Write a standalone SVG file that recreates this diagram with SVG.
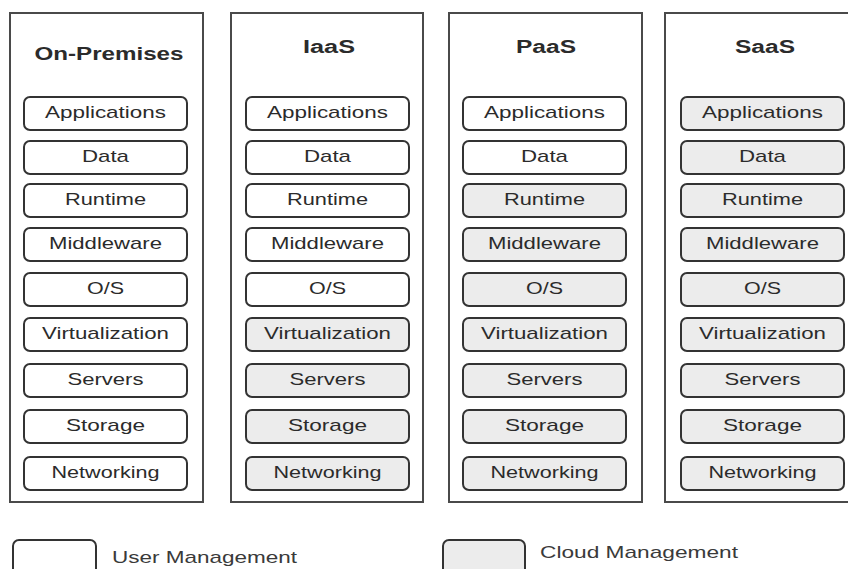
<svg xmlns="http://www.w3.org/2000/svg" width="848" height="569" viewBox="0 0 848 569">
  <style>
    .col { fill: #ffffff; stroke: #4a4a4a; stroke-width: 2; }
    .box { stroke: #333333; stroke-width: 2; }
    .user { fill: #ffffff; }
    .cloud { fill: #ececec; }
    .head { font-family: "Liberation Sans", Arial, sans-serif; font-weight: bold; font-size: 18px; fill: #2b2b2b; text-anchor: middle; }
    .lbl { font-family: "Liberation Sans", Arial, sans-serif; font-size: 17px; fill: #2b2b2b; text-anchor: middle; }
    .leg { font-family: "Liberation Sans", Arial, sans-serif; font-size: 17px; fill: #3a3a3a; }
  </style>
  <defs>
    <rect id="b" width="163" height="33" rx="6" ry="6"/>
  </defs>
  <rect width="848" height="569" fill="#ffffff"/>

  <!-- On-Premises: everything managed by the user -->
  <g id="on-premises">
    <rect class="col" x="10" y="13" width="193" height="489"/>
    <text class="head" x="109" y="60" textLength="149" lengthAdjust="spacingAndGlyphs">On-Premises</text>
    <g transform="translate(24,0)">
      <use href="#b" class="box user" y="97"/><text class="lbl" x="81.5" y="118" textLength="121" lengthAdjust="spacingAndGlyphs">Applications</text>
      <use href="#b" class="box user" y="141"/><text class="lbl" x="81.5" y="162" textLength="47" lengthAdjust="spacingAndGlyphs">Data</text>
      <use href="#b" class="box user" y="184"/><text class="lbl" x="81.5" y="205" textLength="81" lengthAdjust="spacingAndGlyphs">Runtime</text>
      <use href="#b" class="box user" y="228"/><text class="lbl" x="81.5" y="249" textLength="113" lengthAdjust="spacingAndGlyphs">Middleware</text>
      <use href="#b" class="box user" y="273"/><text class="lbl" x="81.5" y="294" textLength="37" lengthAdjust="spacingAndGlyphs">O/S</text>
      <use href="#b" class="box user" y="318"/><text class="lbl" x="81.5" y="339" textLength="127" lengthAdjust="spacingAndGlyphs">Virtualization</text>
      <use href="#b" class="box user" y="364"/><text class="lbl" x="81.5" y="385" textLength="76" lengthAdjust="spacingAndGlyphs">Servers</text>
      <use href="#b" class="box user" y="410"/><text class="lbl" x="81.5" y="431" textLength="79" lengthAdjust="spacingAndGlyphs">Storage</text>
      <use href="#b" class="box user" y="457"/><text class="lbl" x="81.5" y="478" textLength="108" lengthAdjust="spacingAndGlyphs">Networking</text>
    </g>
  </g>

  <!-- IaaS: provider runs virtualization and below -->
  <g id="iaas">
    <rect class="col" x="231" y="13" width="192" height="489"/>
    <text class="head" x="329" y="53" textLength="52" lengthAdjust="spacingAndGlyphs">IaaS</text>
    <g transform="translate(246,0)">
      <use href="#b" class="box user" y="97"/><text class="lbl" x="81.5" y="118" textLength="121" lengthAdjust="spacingAndGlyphs">Applications</text>
      <use href="#b" class="box user" y="141"/><text class="lbl" x="81.5" y="162" textLength="47" lengthAdjust="spacingAndGlyphs">Data</text>
      <use href="#b" class="box user" y="184"/><text class="lbl" x="81.5" y="205" textLength="81" lengthAdjust="spacingAndGlyphs">Runtime</text>
      <use href="#b" class="box user" y="228"/><text class="lbl" x="81.5" y="249" textLength="113" lengthAdjust="spacingAndGlyphs">Middleware</text>
      <use href="#b" class="box user" y="273"/><text class="lbl" x="81.5" y="294" textLength="37" lengthAdjust="spacingAndGlyphs">O/S</text>
      <use href="#b" class="box cloud" y="318"/><text class="lbl" x="81.5" y="339" textLength="127" lengthAdjust="spacingAndGlyphs">Virtualization</text>
      <use href="#b" class="box cloud" y="364"/><text class="lbl" x="81.5" y="385" textLength="76" lengthAdjust="spacingAndGlyphs">Servers</text>
      <use href="#b" class="box cloud" y="410"/><text class="lbl" x="81.5" y="431" textLength="79" lengthAdjust="spacingAndGlyphs">Storage</text>
      <use href="#b" class="box cloud" y="457"/><text class="lbl" x="81.5" y="478" textLength="108" lengthAdjust="spacingAndGlyphs">Networking</text>
    </g>
  </g>

  <!-- PaaS: user keeps applications and data -->
  <g id="paas">
    <rect class="col" x="449" y="13" width="193" height="489"/>
    <text class="head" x="546" y="53" textLength="60" lengthAdjust="spacingAndGlyphs">PaaS</text>
    <g transform="translate(463,0)">
      <use href="#b" class="box user" y="97"/><text class="lbl" x="81.5" y="118" textLength="121" lengthAdjust="spacingAndGlyphs">Applications</text>
      <use href="#b" class="box user" y="141"/><text class="lbl" x="81.5" y="162" textLength="47" lengthAdjust="spacingAndGlyphs">Data</text>
      <use href="#b" class="box cloud" y="184"/><text class="lbl" x="81.5" y="205" textLength="81" lengthAdjust="spacingAndGlyphs">Runtime</text>
      <use href="#b" class="box cloud" y="228"/><text class="lbl" x="81.5" y="249" textLength="113" lengthAdjust="spacingAndGlyphs">Middleware</text>
      <use href="#b" class="box cloud" y="273"/><text class="lbl" x="81.5" y="294" textLength="37" lengthAdjust="spacingAndGlyphs">O/S</text>
      <use href="#b" class="box cloud" y="318"/><text class="lbl" x="81.5" y="339" textLength="127" lengthAdjust="spacingAndGlyphs">Virtualization</text>
      <use href="#b" class="box cloud" y="364"/><text class="lbl" x="81.5" y="385" textLength="76" lengthAdjust="spacingAndGlyphs">Servers</text>
      <use href="#b" class="box cloud" y="410"/><text class="lbl" x="81.5" y="431" textLength="79" lengthAdjust="spacingAndGlyphs">Storage</text>
      <use href="#b" class="box cloud" y="457"/><text class="lbl" x="81.5" y="478" textLength="108" lengthAdjust="spacingAndGlyphs">Networking</text>
    </g>
  </g>

  <!-- SaaS: whole stack run by the provider -->
  <g id="saas">
    <rect class="col" x="665" y="13" width="200" height="489"/>
    <text class="head" x="765" y="53" textLength="60" lengthAdjust="spacingAndGlyphs">SaaS</text>
    <g transform="translate(681,0)">
      <use href="#b" class="box cloud" y="97"/><text class="lbl" x="81.5" y="118" textLength="121" lengthAdjust="spacingAndGlyphs">Applications</text>
      <use href="#b" class="box cloud" y="141"/><text class="lbl" x="81.5" y="162" textLength="47" lengthAdjust="spacingAndGlyphs">Data</text>
      <use href="#b" class="box cloud" y="184"/><text class="lbl" x="81.5" y="205" textLength="81" lengthAdjust="spacingAndGlyphs">Runtime</text>
      <use href="#b" class="box cloud" y="228"/><text class="lbl" x="81.5" y="249" textLength="113" lengthAdjust="spacingAndGlyphs">Middleware</text>
      <use href="#b" class="box cloud" y="273"/><text class="lbl" x="81.5" y="294" textLength="37" lengthAdjust="spacingAndGlyphs">O/S</text>
      <use href="#b" class="box cloud" y="318"/><text class="lbl" x="81.5" y="339" textLength="127" lengthAdjust="spacingAndGlyphs">Virtualization</text>
      <use href="#b" class="box cloud" y="364"/><text class="lbl" x="81.5" y="385" textLength="76" lengthAdjust="spacingAndGlyphs">Servers</text>
      <use href="#b" class="box cloud" y="410"/><text class="lbl" x="81.5" y="431" textLength="79" lengthAdjust="spacingAndGlyphs">Storage</text>
      <use href="#b" class="box cloud" y="457"/><text class="lbl" x="81.5" y="478" textLength="108" lengthAdjust="spacingAndGlyphs">Networking</text>
    </g>
  </g>

  <!-- legend -->
  <g id="legend">
    <rect class="box user" x="13" y="540" width="83" height="45" rx="6" ry="6"/>
    <text class="leg" x="112" y="563" textLength="185" lengthAdjust="spacingAndGlyphs">User Management</text>
    <rect class="box cloud" x="443" y="540" width="82" height="45" rx="6" ry="6"/>
    <text class="leg" x="540" y="558" textLength="198" lengthAdjust="spacingAndGlyphs">Cloud Management</text>
  </g>
</svg>
